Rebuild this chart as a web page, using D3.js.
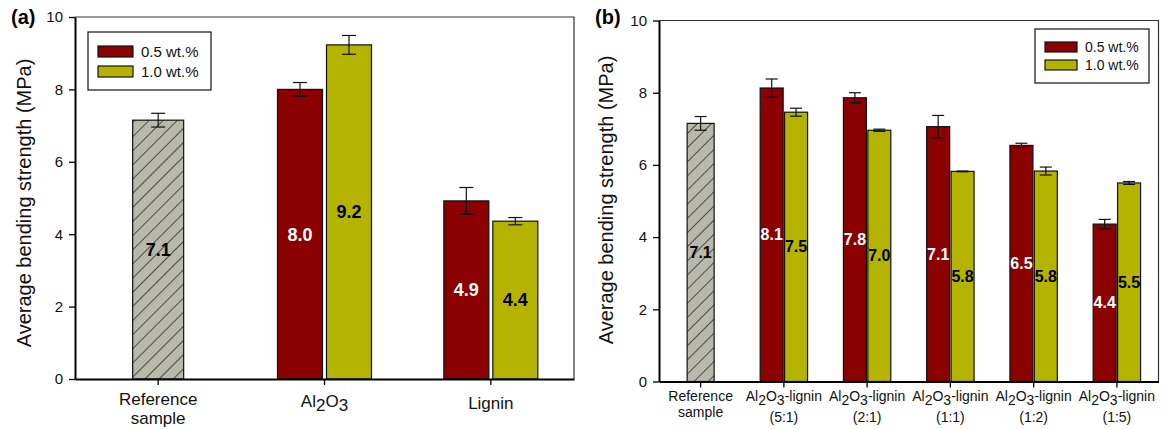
<!DOCTYPE html>
<html>
<head>
<meta charset="utf-8">
<script src="https://cdn.jsdelivr.net/npm/d3@7"></script>
<style>
  body { margin: 0; background: #fff; }
  svg text { font-family: Arial, "Liberation Sans", sans-serif; }
</style>
</head>
<body>
<div id="chart"></div>
<script>
// panel (a) data
var catsA = ["ref", "al2o3", "lignin"];
var refValue = 7.15, refErr = 0.19, refLabel = "7.1";
var lowA = [null, 8.0, 4.92];      // 0.5 wt.%
var lowErrA = [null, 0.19, 0.37];
var lowLabA = [null, "8.0", "4.9"];
var highA = [null, 9.23, 4.36];    // 1.0 wt.%
var highErrA = [null, 0.26, 0.1];
var highLabA = [null, "9.2", "4.4"];

// panel (b) data
var catsB = ["ref", "5:1", "2:1", "1:1", "1:2", "1:5"];
var lowB = [null, 8.13, 7.86, 7.06, 6.54, 4.36];
var lowErrB = [null, 0.25, 0.14, 0.31, 0.06, 0.13];
var lowLabB = [null, "8.1", "7.8", "7.1", "6.5", "4.4"];
var highB = [null, 7.46, 6.96, 5.82, 5.83, 5.50];
var highErrB = [null, 0.11, 0.03, 0.01, 0.11, 0.04];
var highLabB = [null, "7.5", "7.0", "5.8", "5.8", "5.5"];

var seriesNames = ["0.5 wt.%", "1.0 wt.%"];
var yTicks = [0, 2, 4, 6, 8, 10];

var RED = "#8b0000", YEL = "#b4b400", GRAY = "#b9b9ab";

var svg = d3.select("#chart").append("svg").attr("width", 1166).attr("height", 429);

var defs = svg.append("defs");
var pat = defs.append("pattern").attr("id", "hatch")
  .attr("patternUnits", "userSpaceOnUse").attr("width", 10).attr("height", 10)
  .attr("patternTransform", "rotate(45)");
pat.append("rect").attr("width", 10).attr("height", 10).attr("fill", GRAY);
pat.append("line").attr("x1", 0).attr("y1", 0).attr("x2", 0).attr("y2", 10)
  .attr("stroke", "#111").attr("stroke-width", 1.3);

function drawPanel(o) {
  var g = svg.append("g");
  var x = d3.scaleBand().domain(o.cats).range([o.left, o.right]);
  var y = d3.scaleLinear().domain([0, 10]).range([o.bottom, o.top]);

  // frame top/right
  g.append("path").attr("d", "M" + o.left + "," + o.top + "H" + o.right + "V" + o.bottom)
    .attr("fill", "none").attr("stroke", "#333").attr("stroke-width", 1.2);

  var bars = [];
  o.cats.forEach(function(c, i) {
    var cx = x(c) + x.bandwidth() / 2;
    if (i == 0) {
      bars.push({cx: cx, w: o.refW, v: refValue, e: refErr, lab: refLabel, fill: "url(#hatch)", txt: "#000"});
    } else {
      bars.push({cx: cx - o.off, w: o.barW, v: o.low[i], e: o.lowErr[i], lab: o.lowLab[i], fill: RED, txt: "#fff"});
      bars.push({cx: cx + o.off, w: o.barW, v: o.high[i], e: o.highErr[i], lab: o.highLab[i], fill: YEL, txt: "#000"});
    }
  });

  g.selectAll("rect.bar").data(bars).enter().append("rect").attr("class", "bar")
    .attr("x", function(d) { return d.cx - d.w / 2; })
    .attr("y", function(d) { return y(d.v); })
    .attr("width", function(d) { return d.w; })
    .attr("height", function(d) { return y(0) - y(d.v); })
    .attr("fill", function(d) { return d.fill; })
    .attr("stroke", "#111").attr("stroke-width", 1.2);

  // error bars
  var eb = g.selectAll("g.err").data(bars).enter().append("g").attr("stroke", "#111").attr("stroke-width", 1.2);
  eb.append("line").attr("x1", function(d) { return d.cx; }).attr("x2", function(d) { return d.cx; })
    .attr("y1", function(d) { return y(d.v + d.e); }).attr("y2", function(d) { return y(d.v - d.e); });
  eb.append("line").attr("x1", function(d) { return d.cx - o.cap; }).attr("x2", function(d) { return d.cx + o.cap; })
    .attr("y1", function(d) { return y(d.v + d.e); }).attr("y2", function(d) { return y(d.v + d.e); });
  eb.append("line").attr("x1", function(d) { return d.cx - o.cap; }).attr("x2", function(d) { return d.cx + o.cap; })
    .attr("y1", function(d) { return y(d.v - d.e); }).attr("y2", function(d) { return y(d.v - d.e); });

  // value labels
  g.selectAll("text.val").data(bars).enter().append("text").attr("class", "val")
    .attr("x", function(d) { return d.cx; })
    .attr("y", function(d) { return y(d.v / 2); })
    .attr("dy", "0.35em").attr("text-anchor", "middle")
    .attr("font-size", o.valSize).attr("font-weight", "bold")
    .attr("fill", function(d) { return d.txt; })
    .text(function(d) { return d.lab; });

  // axes
  var ya = g.append("g").attr("transform", "translate(" + o.left + ",0)")
    .call(d3.axisLeft(y).tickValues(yTicks).tickSize(6).tickPadding(6).tickSizeOuter(0));
  ya.select(".domain").attr("stroke-width", 2).attr("stroke", "#000");
  ya.selectAll("text").attr("font-size", 15).attr("fill", "#111");
  ya.selectAll(".tick line").attr("stroke-width", 1.3);

  var xa = g.append("g").attr("transform", "translate(0," + o.bottom + ")")
    .call(d3.axisBottom(x).tickSize(6).tickSizeOuter(0).tickFormat(""));
  xa.select(".domain").attr("stroke-width", 2).attr("stroke", "#000");
  xa.selectAll(".tick line").attr("stroke-width", 1.3);

  // category labels
  o.cats.forEach(function(c, i) {
    var cx = x(c) + x.bandwidth() / 2;
    o.xLabel(g, cx, i);
  });

  // y title
  g.append("text").attr("transform", "translate(" + o.titleX + "," + o.titleY + ") rotate(-90)")
    .attr("text-anchor", "middle").attr("dy", "0.35em").attr("font-size", 20).attr("fill", "#111")
    .text("Average bending strength (MPa)");

  // panel tag
  g.append("text").attr("x", o.tagX).attr("y", 24).attr("font-size", 20).attr("font-weight", "bold")
    .text(o.tag);

  // legend
  var lg = g.append("g").attr("transform", "translate(" + o.leg[0] + "," + o.leg[1] + ")");
  lg.append("rect").attr("width", o.leg[2]).attr("height", o.leg[3]).attr("fill", "#fff")
    .attr("stroke", "#111").attr("stroke-width", 1.2);
  [RED, YEL].forEach(function(col, i) {
    lg.append("rect").attr("x", o.sw[0]).attr("y", o.sw[1] + i * o.sw[4]).attr("width", o.sw[2]).attr("height", o.sw[3])
      .attr("fill", col).attr("stroke", "#111").attr("stroke-width", 1.2);
    lg.append("text").attr("x", o.sw[0] + o.sw[2] + 8).attr("y", o.sw[1] + i * o.sw[4] + o.sw[3] / 2)
      .attr("dy", "0.35em").attr("font-size", o.legSize).attr("fill", "#111").text(seriesNames[i]);
  });
}

function plainText(g, cx, yy, size, s) {
  g.append("text").attr("x", cx).attr("y", yy).attr("text-anchor", "middle")
    .attr("font-size", size).attr("fill", "#111").text(s);
}

function subText(g, cx, yy, size, parts) {
  var t = g.append("text").attr("x", cx).attr("y", yy).attr("text-anchor", "middle")
    .attr("font-size", size).attr("fill", "#111");
  parts.forEach(function(p) {
    var ts = t.append("tspan").text(p[0]);
    if (p[1]) ts.attr("dy", 4);
    else if (p[2]) ts.attr("dy", -4);
  });
}

drawPanel({
  cats: catsA, left: 75, right: 574, top: 17, bottom: 379,
  refW: 51, barW: 45, off: 24.5, cap: 7, valSize: 18,
  low: lowA, lowErr: lowErrA, lowLab: lowLabA, high: highA, highErr: highErrA, highLab: highLabA,
  titleX: 24, titleY: 203, tagX: 11, tag: "(a)",
  leg: [88, 32, 123, 58], sw: [10, 14, 35, 11, 20], legSize: 15,
  xLabel: function(g, cx, i) {
    if (i == 0) {
      plainText(g, cx, 405, 17, "Reference");
      plainText(g, cx, 424, 17, "sample");
    } else if (i == 1) {
      subText(g, cx, 407, 17, [["Al"], ["2", 1], ["O", 0, 1], ["3", 1]]);
    } else {
      plainText(g, cx, 409, 17, "Lignin");
    }
  }
});

drawPanel({
  cats: catsB, left: 659, right: 1158.5, top: 20.5, bottom: 381.5,
  refW: 27, barW: 23, off: 12.2, cap: 6, valSize: 16,
  low: lowB, lowErr: lowErrB, lowLab: lowLabB, high: highB, highErr: highErrB, highLab: highLabB,
  titleX: 606, titleY: 200, tagX: 595, tag: "(b)",
  leg: [1035, 29, 114, 54], sw: [10, 13, 32, 10, 18], legSize: 14,
  xLabel: function(g, cx, i) {
    if (i == 0) {
      plainText(g, cx, 401, 14, "Reference");
      plainText(g, cx, 417, 14, "sample");
    } else {
      subText(g, cx, 401, 14, [["Al"], ["2", 1], ["O", 0, 1], ["3", 1], ["-lignin", 0, 1]]);
      plainText(g, cx, 422, 14, "(" + catsB[i] + ")");
    }
  }
});
</script>
</body>
</html>
